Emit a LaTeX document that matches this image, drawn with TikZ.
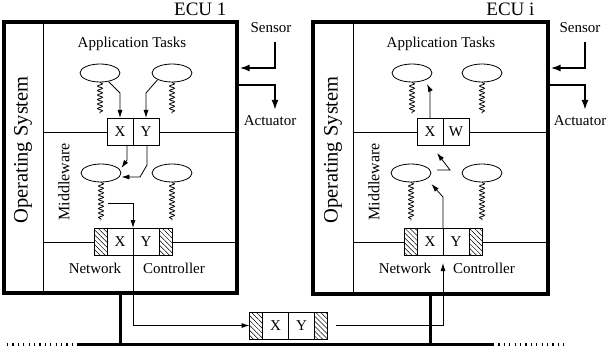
\documentclass[tikz,border=0pt]{standalone}
\usepackage{fontspec}
\setmainfont{Liberation Serif}
\usetikzlibrary{arrows.meta,positioning,shapes.geometric,decorations.pathmorphing,patterns.meta}

\begin{document}
\begin{tikzpicture}[
    x=1pt, y=-1pt,
    font=\fontsize{15}{18}\selectfont,
    ecu/.style={rectangle, draw, line width=3.5pt, inner sep=0pt},
    title/.style={font=\fontsize{19}{22}\selectfont, anchor=base east},
    layer/.style={line width=0.8pt},
    task/.style={ellipse, draw, line width=0.8pt, minimum width=40pt, minimum height=18pt, inner sep=0pt},
    cell/.style={rectangle, draw, fill=white, line width=0.8pt, minimum width=26pt, minimum height=27pt, inner sep=0pt, outer sep=0pt},
    hatch/.style={cell, minimum width=13pt, preaction={fill=white}, pattern={Lines[angle=-45,distance=3.5pt,line width=0.5pt]}},
    spring/.style={line width=0.8pt, decorate, decoration={snake, segment length=4.5pt, amplitude=2.5pt}},
    msg/.style={-{Latex[length=8pt,width=5pt]}, line width=0.8pt},
    io/.style={-{Latex[length=10pt,width=7pt]}, line width=2pt},
    bus/.style={line width=3pt},
    busext/.style={line width=3pt, dash pattern=on 1.2pt off 4.2pt},
]
    \useasboundingbox (0,0) rectangle (606,353);

    % ECU 1
    \node[ecu, minimum width=233pt, minimum height=271pt] (ecu1) at (120.5,157.5) {};
    \node[title] (ecu1-title) at (230,16) {ECU 1};
    \draw[layer] (43,22) -- (43,293);
    \draw[layer] (43,132) -- (237,132);
    \draw[layer] (43,242) -- (237,242);
    \node[rotate=90, font=\fontsize{20.5}{24}\selectfont] (os1) at (23,150) {Operating System};
    \node[rotate=90, font=\fontsize{16}{19}\selectfont] (mw1) at (64,182) {Middleware};
    \node[anchor=base] (app1) at (132,48) {Application Tasks};
    \node[anchor=base] (net1) at (95,273) {Network};
    \node[anchor=base] (ctl1) at (174,273) {Controller};

    % tasks and middleware of ECU 1
    \node[task] (t1a) at (100,73) {};
    \node[task] (t1b) at (172,73) {};
    \node[task] (m1a) at (101,173) {};
    \node[task] (m1b) at (172,173) {};
    \draw[spring] (t1a.south) -- ++(0,31);
    \draw[spring] (t1b.south) -- ++(0,31);
    \draw[spring] (m1a.south) -- ++(0,38);
    \draw[spring] (m1b.south) -- ++(0,38);

    % signals of ECU 1
    \node[cell] (a1x) at (120,131.5) {X};
    \node[cell, right=0pt of a1x] (a1y) {Y};
    \node[cell] (n1x) at (120,241.5) {X};
    \node[cell, right=0pt of n1x] (n1y) {Y};
    \node[hatch, left=0pt of n1x] (n1l) {};
    \node[hatch, right=0pt of n1y] (n1r) {};

    % ECU i
    \node[ecu, minimum width=235pt, minimum height=272pt] (ecu2) at (430.5,158) {};
    \node[title] (ecu2-title) at (538,16) {ECU i};
    \draw[layer] (353,22) -- (353,294);
    \draw[layer] (353,132) -- (548,132);
    \draw[layer] (353,242) -- (548,242);
    \node[rotate=90, font=\fontsize{20.5}{24}\selectfont] (os2) at (333,150) {Operating System};
    \node[rotate=90, font=\fontsize{16}{19}\selectfont] (mw2) at (374,182) {Middleware};
    \node[anchor=base] (app2) at (441,48) {Application Tasks};
    \node[anchor=base] (net2) at (405,273) {Network};
    \node[anchor=base] (ctl2) at (484,273) {Controller};

    % tasks and middleware of ECU i
    \node[task] (t2a) at (412,73) {};
    \node[task] (t2b) at (482,73) {};
    \node[task] (m2a) at (411,173) {};
    \node[task] (m2b) at (482,173) {};
    \draw[spring] (t2a.south) -- ++(0,31);
    \draw[spring] (t2b.south) -- ++(0,31);
    \draw[spring] (m2a.south) -- ++(0,38);
    \draw[spring] (m2b.south) -- ++(0,38);

    % signals of ECU i
    \node[cell] (a2x) at (430,131.5) {X};
    \node[cell, right=0pt of a2x] (a2w) {W};
    \node[cell] (n2x) at (430,241.5) {X};
    \node[cell, right=0pt of n2x] (n2y) {Y};
    \node[hatch, left=0pt of n2x] (n2l) {};
    \node[hatch, right=0pt of n2y] (n2r) {};

    % frame on the bus
    \node[cell] (fx) at (275.5,325.5) {X};
    \node[cell, right=0pt of fx] (fy) {Y};
    \node[hatch, left=0pt of fx] (fl) {};
    \node[hatch, right=0pt of fy] (fr) {};

    % bus
    \coordinate (bus-l) at (78,344);
    \coordinate (bus-r) at (493,344);
    \draw[bus] (bus-l) -- (bus-r);
    \draw[busext] (7,344) -- (bus-l);
    \draw[busext] (bus-r) -- (567,344);
    \draw[bus] (ecu1.south) -- (ecu1.south |- bus-l);
    \draw[bus] (ecu2.south) -- (ecu2.south |- bus-l);

    % sensors and actuators
    \node[anchor=base] (sens1) at (271,33) {Sensor};
    \node[anchor=base] (act1) at (270,125) {Actuator};
    \coordinate (sens1-in) at (275,42);
    \coordinate (ecu1-s) at (239.5,68);
    \coordinate (ecu1-a) at (237,85);
    \coordinate (act1-out) at (275,110);
    \draw[io] (sens1-in) |- (ecu1-s);
    \draw[io] (ecu1-a) -| (act1-out);

    \node[anchor=base] (sens2) at (580,33) {Sensor};
    \node[anchor=base] (act2) at (580,125) {Actuator};
    \coordinate (sens2-in) at (585,42);
    \coordinate (ecu2-s) at (550.5,68);
    \coordinate (ecu2-a) at (548,85);
    \coordinate (act2-out) at (585,110);
    \draw[io] (sens2-in) |- (ecu2-s);
    \draw[io] (ecu2-a) -| (act2-out);

    % message flow in ECU 1
    \draw[msg] (t1a.-45) -- (a1x.north |- 0,93) -- (a1x.north);
    \draw[msg] (t1b.-155) -- (a1y.north |- 0,93) -- (a1y.north);
    \draw[msg] ([xshift=7pt]a1x.south) -- ++(0,15) -- ([yshift=5pt]m1a.east);
    \draw[msg] ([xshift=1pt]a1y.south) -- ++(0,20) -- ++(-7,12) -- ([yshift=-4pt]m1a.east);
    \coordinate (m1-out) at (108,203);
    \draw[msg] (m1-out) -| (n1x.north east);
    \draw[msg] (n1x.south east) |- (fl.west);

    % message flow in ECU i
    \draw[msg] ([xshift=8pt]fr.east) -| ([yshift=-8pt]n2x.south east);
    \draw[msg] (n2x.north east) -- ++(0,-31) -- ([yshift=-11pt]m2a.east);
    \coordinate (m2-out) at (437,170);
    \draw[msg] (m2-out) -- ++(13,0) -- ([xshift=-6pt,yshift=-8pt]a2w.south west);
    \draw[msg] (a2x.north) -- ++(0,-28) -- ++(-3,-6);

\end{tikzpicture}
\end{document}
